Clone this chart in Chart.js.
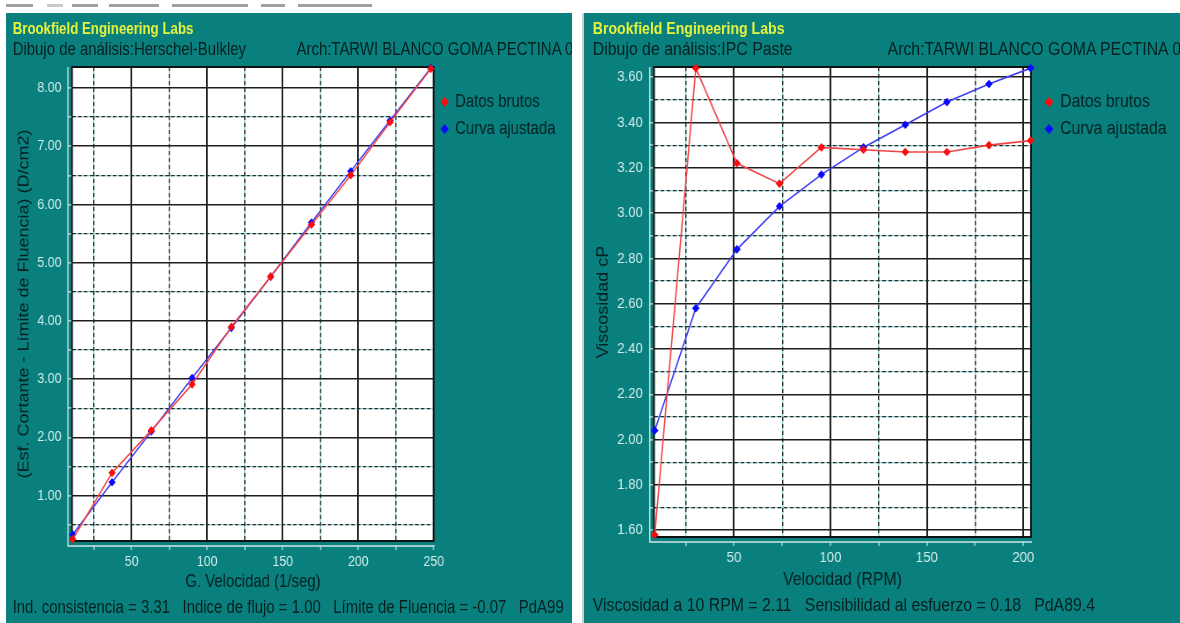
<!DOCTYPE html>
<html lang="es">
<head>
<meta charset="utf-8">
<title>Brookfield Engineering Labs</title>
<script src="https://cdn.jsdelivr.net/npm/chart.js@4.4.1/dist/chart.umd.min.js"></script>
<style>
  body {
    margin: 0;
    width: 1180px;
    height: 623px;
    position: relative;
    overflow: hidden;
    background: #fff;
    font-family: "Liberation Sans", Arial, sans-serif;
  }
  .bar { position: absolute; top: 4px; height: 3px; background: #a0a0a0; }
  .panel { position: absolute; background: #0a807e; overflow: hidden; }
  /* the screenshot is squeezed sideways, so each panel is drawn wide and narrowed */
  .inner { position: absolute; left: 0; top: 0; height: 100%; transform-origin: 0 0; }
  .line {
    position: absolute;
    white-space: pre;
    font-size: 18px;
    line-height: 20px;
    height: 20px;
    color: #05201f;
  }
  .brand { font-weight: bold; font-size: 16px; color: #e6f23c; }
  .inner canvas { position: absolute; left: 0; }
</style>
</head>
<body>
<div class="bar" style="left:6px;width:27px"></div>
<div class="bar" style="left:47px;width:16px;background:#cacaca"></div>
<div class="bar" style="left:72px;width:26px"></div>
<div class="bar" style="left:109px;width:50px"></div>
<div class="bar" style="left:172px;width:76px"></div>
<div class="bar" style="left:261px;width:24px"></div>
<div class="bar" style="left:298px;width:74px"></div>

<div class="panel" style="left:6px;top:13px;width:566px;height:610px">
  <div class="inner" style="width:682px;transform:scaleX(0.83)">
    <div class="line brand" style="left:8px;top:6px">Brookfield Engineering Labs</div>
    <div class="line" style="left:8px;top:26px">Dibujo de análisis:Herschel-Bulkley</div>
    <div class="line" style="left:350px;top:26px">Arch:TARWI BLANCO GOMA PECTINA 0</div>
    <canvas id="hbChart" style="top:42px" width="682" height="538"></canvas>
    <div class="line" style="left:8px;top:584px">Ind. consistencia = 3.31   Indice de flujo = 1.00   Límite de Fluencia = -0.07   PdA99</div>
  </div>
</div>

<div style="position:absolute;left:582px;top:13px;width:2px;height:610px;background:#c9cfcf"></div>
<div class="panel" style="left:584px;top:13px;width:596px;height:610px">
  <div class="inner" style="width:677px;transform:scaleX(0.88)">
    <div class="line brand" style="left:10px;top:6px">Brookfield Engineering Labs</div>
    <div class="line" style="left:10px;top:26px">Dibujo de análisis:IPC Paste</div>
    <div class="line" style="left:345px;top:26px">Arch:TARWI BLANCO GOMA PECTINA 0</div>
    <canvas id="ipcChart" style="top:42px" width="677" height="536"></canvas>
    <div class="line" style="left:10px;top:582px">Viscosidad a 10 RPM = 2.11   Sensibilidad al esfuerzo = 0.18   PdA89.4</div>
  </div>
</div>

<script>
// Herschel-Bulkley plot
const shearRate = [11, 37, 63, 90, 116, 142, 169, 195, 221, 248];
const stressRaw = [0.25, 1.39, 2.12, 2.91, 3.90, 4.76, 5.65, 6.50, 7.41, 8.33];
const stressFit = [0.33, 1.23, 2.10, 3.02, 3.88, 4.76, 5.69, 6.57, 7.44, 8.34];
const shearTicks = [25, 50, 75, 100, 125, 150, 175, 200, 225, 250];
const stressTicks = [0.5, 1, 1.5, 2, 2.5, 3, 3.5, 4, 4.5, 5, 5.5, 6, 6.5, 7, 7.5, 8];

// IPC Paste plot
const speedRpm = [8.9, 30.2, 51.5, 73.6, 95.3, 117.1, 138.8, 160.4, 182.2, 203.8];
const viscRaw = [1.58, 3.64, 3.22, 3.13, 3.29, 3.28, 3.27, 3.27, 3.30, 3.32];
const viscFit = [2.04, 2.58, 2.84, 3.03, 3.17, 3.29, 3.39, 3.49, 3.57, 3.64];
const speedTicks = [25, 50, 75, 100, 125, 150, 175, 200];
const viscTicks = [1.6, 1.7, 1.8, 1.9, 2.0, 2.1, 2.2, 2.3, 2.4, 2.5, 2.6, 2.7, 2.8, 2.9, 3.0, 3.1, 3.2, 3.3, 3.4, 3.5, 3.6];

const seriesNames = ["Datos brutos", "Curva ajustada"];

const DARK_TEXT = "#05201f";
const TICK_TEXT = "#d3ecea";
const AXIS_LINE = "#cfe7e5";
const NONE = "rgba(0,0,0,0)";
const Y_GAP = 4.8; // gap between plot frame and the light y axis line

Chart.defaults.font.family = '"Liberation Sans", Arial, sans-serif';
Chart.defaults.color = DARK_TEXT;

function isMajor(v, step) {
  const r = v / step;
  return Math.abs(r - Math.round(r)) < 1e-6;
}

// main axis (labels, solid lines) + two minor layers (cyan under dark dashes)
function axisSet(o) {
  const isX = o.pos === "bottom";
  const keepTicks = (s) => {
    s.ticks = o.ticks.map((v) => ({ value: v }));
  };
  const main = {
    type: "linear",
    position: o.pos,
    min: o.min,
    max: o.max,
    bounds: "data",
    afterBuildTicks: keepTicks,
    afterFit: (s) => {
      if (isX) s.height = o.size;
      else s.width = o.size;
    },
    ticks: {
      autoSkip: false,
      maxRotation: 0,
      color: TICK_TEXT,
      font: { size: 15 },
      padding: 3,
      callback: (v) => (isMajor(v, o.major) ? o.fmt(v) : ""),
    },
    grid: {
      color: (c) => (c.tick && isMajor(c.tick.value, o.major) ? "#1e1e1e" : NONE),
      lineWidth: isX ? 2 : 1.6,
      tickColor: AXIS_LINE,
      tickLength: isX ? 9 : 9.6,
      tickWidth: 1.2,
      tickBorderDash: isX ? [0, 5, 4, 0] : [0, Y_GAP, 4.8, 0],
    },
    border: { display: false },
    title: { display: true, text: o.title, color: DARK_TEXT, font: { size: 18 }, padding: o.titlePad },
  };
  const minor = (color, dash, z) => ({
    type: "linear",
    position: o.pos,
    min: o.min,
    max: o.max,
    bounds: "data",
    afterBuildTicks: keepTicks,
    afterFit: (s) => {
      if (isX) s.height = 0;
      else s.width = 0;
    },
    ticks: { display: false, autoSkip: false },
    grid: {
      color: (c) => (c.tick && !isMajor(c.tick.value, o.major) ? color : NONE),
      lineWidth: isX ? 1.4 : 1.2,
      drawTicks: false,
      z: z,
    },
    border: { display: false, dash: dash },
  });
  return [main, minor("#8ccfcf", [], -2), minor("#2a2a2a", [4, 3], -1)];
}

const plotFrame = {
  id: "plotFrame",
  beforeDraw(chart) {
    const { ctx, chartArea: a } = chart;
    ctx.save();
    ctx.fillStyle = "#ffffff";
    ctx.fillRect(a.left, a.top, a.width, a.height);
    ctx.restore();
  },
  beforeDatasetsDraw(chart) {
    const { ctx, chartArea: a } = chart;
    ctx.save();
    ctx.strokeStyle = "#111";
    ctx.lineWidth = 2;
    ctx.strokeRect(a.left, a.top, a.width, a.height);
    ctx.strokeStyle = AXIS_LINE;
    ctx.lineWidth = 1.5;
    ctx.beginPath();
    ctx.moveTo(a.left - Y_GAP, a.top);
    ctx.lineTo(a.left - Y_GAP, a.bottom + 5);
    ctx.lineTo(a.right + 1, a.bottom + 5);
    ctx.stroke();
    ctx.restore();
  },
};

function toPoints(xs, ys) {
  return xs.map((x, i) => ({ x: x, y: ys[i] }));
}

function series(label, xs, ys, line, dot) {
  return {
    label: label,
    data: toPoints(xs, ys),
    borderColor: line,
    backgroundColor: dot,
    borderWidth: 1.6,
    pointStyle: "rectRot",
    pointRadius: 4.3,
    pointBorderWidth: 0,
    pointBackgroundColor: dot,
    tension: 0,
    clip: 8,
  };
}

function makeChart(id, cfg) {
  const [x, xBg, xDash] = axisSet(cfg.xAxis);
  const [y, yBg, yDash] = axisSet(cfg.yAxis);
  // empty right-hand axis used only as a gap before the legend
  const spacer = {
    type: "linear",
    position: "right",
    display: true,
    grid: { display: false },
    ticks: { display: false },
    border: { display: false },
    afterFit: (s) => {
      s.width = cfg.legendGap;
    },
  };
  return new Chart(document.getElementById(id), {
    type: "line",
    data: {
      datasets: [
        series(seriesNames[0], cfg.xs, cfg.raw, "#f24444", "#ff0b0b"),
        series(seriesNames[1], cfg.xs, cfg.fit, "#3c3cf2", "#0a0aff"),
      ],
    },
    options: {
      responsive: false,
      devicePixelRatio: 1,
      animation: false,
      layout: { padding: { left: 0, top: 12, right: cfg.padRight, bottom: 0 } },
      scales: { x: x, xBg: xBg, xDash: xDash, y: y, yBg: yBg, yDash: yDash, gap: spacer },
      plugins: {
        tooltip: { enabled: false },
        legend: {
          position: "right",
          align: "start",
          maxWidth: cfg.legendWidth,
          title: { display: true, text: "", font: { size: 17, lineHeight: 1 }, padding: 0 },
          labels: {
            usePointStyle: true,
            boxWidth: 7,
            boxHeight: 7,
            padding: 9,
            color: DARK_TEXT,
            font: { size: 18 },
          },
        },
      },
    },
    plugins: [plotFrame],
  });
}

// left panel
makeChart("hbChart", {
  xs: shearRate,
  raw: stressRaw,
  fit: stressFit,
  legendWidth: 166,
  legendGap: 0.5,
  padRight: 10,
  xAxis: {
    pos: "bottom", min: 10.5, max: 250, ticks: shearTicks, major: 50, size: 52,
    title: "G. Velocidad (1/seg)", titlePad: { top: 0, bottom: 0 }, fmt: (v) => String(v),
  },
  yAxis: {
    pos: "left", min: 0.22, max: 8.36, ticks: stressTicks, major: 1, size: 79.5,
    title: "(Esf. Cortante - Límite de Fluencia) (D/cm2)", titlePad: { top: 11, bottom: 0 },
    fmt: (v) => v.toFixed(2),
  },
});

// right panel
makeChart("ipcChart", {
  xs: speedRpm,
  raw: viscRaw,
  fit: viscFit,
  legendWidth: 160,
  legendGap: 8,
  padRight: 5,
  xAxis: {
    pos: "bottom", min: 8.5, max: 204, ticks: speedTicks, major: 50, size: 54,
    title: "Velocidad (RPM)", titlePad: { top: 0, bottom: 0 }, fmt: (v) => String(v),
  },
  yAxis: {
    pos: "left", min: 1.57, max: 3.645, ticks: viscTicks, major: 0.2, size: 79.5,
    title: "Viscosidad cP", titlePad: { top: 11, bottom: 0 }, fmt: (v) => v.toFixed(2),
  },
});
</script>
</body>
</html>
